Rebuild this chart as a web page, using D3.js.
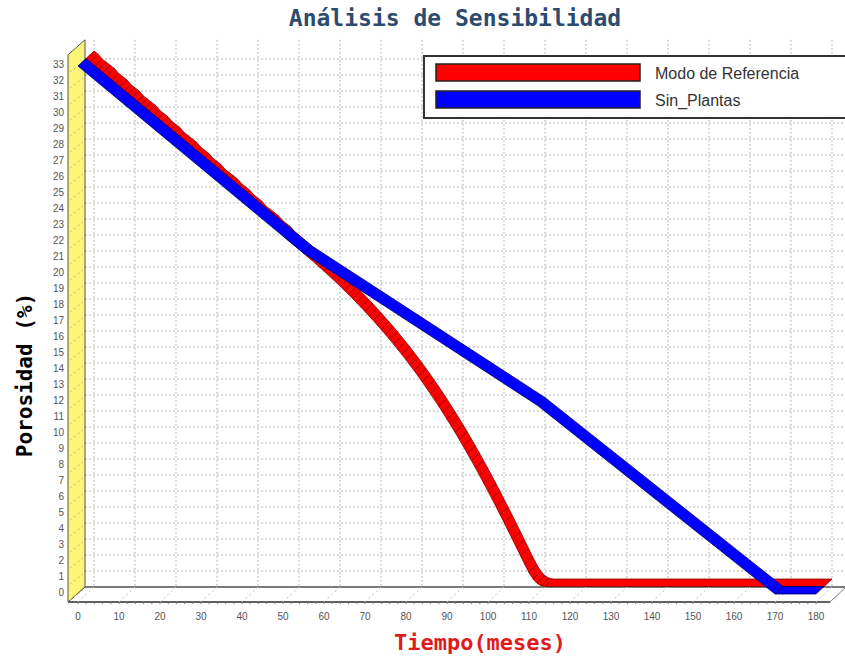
<!DOCTYPE html>
<html lang="es">
<head>
  <meta charset="UTF-8" />
  <title>Análisis de Sensibilidad</title>
  <style>
    body { margin: 0; background: #fff; }
    .tick-label { font-family: "Liberation Sans", Arial, sans-serif; font-size: 10px; fill: #555; }
    .grid line { stroke: #b5b5b5; stroke-dasharray: 2,2; stroke-width: 1; }
  </style>
</head>
<body>
  <svg width="845" height="660"></svg>
  <script src="https://d3js.org/d3.v7.min.js"></script>
  <script>
    // tiempo (meses) y porosidad (%)
    const refMonths = d3.range(0, 113).concat([180]);
    const refValues = [
      33.5, 33.3, 33.0, 32.8, 32.6, 32.4, 32.1, 31.9, 31.7, 31.4,
      31.2, 31.0, 30.7, 30.5, 30.3, 30.1, 29.8, 29.6, 29.4, 29.1,
      28.9, 28.7, 28.4, 28.2, 28.0, 27.8, 27.5, 27.3, 27.1, 26.8,
      26.6, 26.4, 26.1, 25.9, 25.7, 25.5, 25.2, 25.0, 24.8, 24.5,
      24.3, 24.1, 23.8, 23.6, 23.4, 23.2, 22.9, 22.7, 22.5, 22.2,
      22.00, 21.78, 21.56, 21.34, 21.12, 20.90, 20.68, 20.45, 20.22, 19.99,
      19.75, 19.51, 19.26, 19.01, 18.76, 18.50, 18.24, 17.97, 17.70, 17.42,
      17.14, 16.85, 16.56, 16.26, 15.96, 15.65, 15.33, 15.01, 14.68, 14.34,
      14.00, 13.65, 13.29, 12.92, 12.55, 12.17, 11.78, 11.38, 10.97, 10.56,
      10.14, 9.71, 9.27, 8.82, 8.37, 7.91, 7.44, 6.96, 6.48, 5.99,
      5.49, 4.99, 4.48, 3.97, 3.45, 2.93, 2.41, 1.89, 1.39, 0.98,
      0.70, 0.55, 0.50,
      0.50
    ];
    const sinMonths = [0, 55, 112, 170, 180];
    const sinValues = [33.5, 21.8, 12.3, 0.5, 0.5];

    const xTicks = d3.range(0, 181, 10);
    const yTicks = d3.range(0, 34);
    const legendNames = ["Modo de Referencia", "Sin_Plantas"];

    const svg = d3.select("svg");

    // front plane scales
    const x = d3.scaleLinear().domain([0, 180]).range([78, 816]);
    const y = d3.scaleLinear().domain([0, 33]).range([602, 74]);
    const depth = { dx: 16, dy: -15 };
    const wallTop = y(34.2);

    // back wall grid
    const grid = svg.append("g").attr("class", "grid");
    grid.selectAll(".gv").data(xTicks).enter().append("line")
      .attr("x1", d => x(d) + depth.dx).attr("x2", d => x(d) + depth.dx)
      .attr("y1", wallTop + depth.dy).attr("y2", y(0) + depth.dy);
    grid.selectAll(".gh").data(yTicks.slice(1)).enter().append("line")
      .attr("x1", 85).attr("x2", 845)
      .attr("y1", d => y(d) + depth.dy).attr("y2", d => y(d) + depth.dy);

    // floor
    svg.append("path")
      .attr("d", `M68,${y(0)} L830,${y(0)} L846,${y(0) + depth.dy} L85,${y(0) + depth.dy} Z`)
      .attr("fill", "#fff").attr("stroke", "#777").attr("stroke-width", 1);
    svg.append("line").attr("x1", 68).attr("x2", 830).attr("y1", y(0)).attr("y2", y(0))
      .attr("stroke", "#444").attr("stroke-width", 1.5);
    svg.append("line").attr("x1", 85).attr("x2", 846).attr("y1", y(0) + depth.dy).attr("y2", y(0) + depth.dy)
      .attr("stroke", "#666").attr("stroke-width", 1.5);
    svg.selectAll(".floor-tick").data(xTicks).enter().append("line")
      .attr("x1", d => x(d)).attr("y1", y(0))
      .attr("x2", d => x(d) + depth.dx).attr("y2", y(0) + depth.dy)
      .attr("stroke", "#bbb").attr("stroke-dasharray", "2,3");
    svg.selectAll(".minor").data(d3.range(0, 181, 2)).enter().append("line")
      .attr("x1", d => x(d)).attr("x2", d => x(d))
      .attr("y1", y(0)).attr("y2", y(0) + 2)
      .attr("stroke", "#777");

    // left wall
    svg.append("path")
      .attr("d", `M68,${y(0)} L68,${wallTop} L85,${wallTop + depth.dy} L85,${y(0) + depth.dy} Z`)
      .attr("fill", "#fdf57a").attr("stroke", "#555").attr("stroke-width", 1);
    svg.selectAll(".wall-tick").data(yTicks).enter().append("line")
      .attr("x1", 70).attr("y1", d => y(d) - 2)
      .attr("x2", 83).attr("y2", d => y(d) - 12)
      .attr("stroke", "#c8c060").attr("stroke-dasharray", "2,3");

    // axis labels
    svg.selectAll(".ylab").data(yTicks).enter().append("text")
      .attr("class", "tick-label")
      .attr("x", 64).attr("y", d => y(d) - 10 + 3.5)
      .attr("text-anchor", "end")
      .text(d => d);
    svg.selectAll(".xlab").data(xTicks).enter().append("text")
      .attr("class", "tick-label")
      .attr("x", d => x(d)).attr("y", 620)
      .attr("text-anchor", "middle")
      .text(d => d);

    // 3D ribbons
    function ribbon(months, values, z0, z1, fill, edge) {
      const g = svg.append("g");
      for (let i = 0; i < months.length - 1; i++) {
        const ax = x(months[i]), ay = y(values[i]);
        const bx = x(months[i + 1]), by = y(values[i + 1]);
        const pts = [
          [ax + depth.dx * z0, ay + depth.dy * z0],
          [bx + depth.dx * z0, by + depth.dy * z0],
          [bx + depth.dx * z1, by + depth.dy * z1],
          [ax + depth.dx * z1, ay + depth.dy * z1]
        ];
        g.append("path")
          .attr("d", "M" + pts.join("L") + "Z")
          .attr("fill", fill).attr("stroke", edge).attr("stroke-width", 0.8)
          .attr("stroke-linejoin", "round");
      }
    }
    ribbon(refMonths, refValues, 0.5, 1, "#ff0000", "#8a0000");
    ribbon(sinMonths, sinValues, 0, 0.5, "#0000ff", "#00006a");

    // legend
    const lg = svg.append("g");
    lg.append("rect").attr("x", 424).attr("y", 56).attr("width", 440).attr("height", 62)
      .attr("fill", "#fff").attr("stroke", "#333").attr("stroke-width", 2);
    const colors = ["#ff0000", "#0000ff"];
    legendNames.forEach((name, i) => {
      lg.append("rect").attr("x", 436).attr("y", 64 + i * 27).attr("width", 204).attr("height", 17)
        .attr("fill", colors[i]).attr("stroke", "#222").attr("stroke-width", 1.5);
      lg.append("text").attr("x", 655).attr("y", 79 + i * 27)
        .attr("font-family", "Liberation Sans, Arial, sans-serif").attr("font-size", 16)
        .attr("fill", "#333").text(name);
    });

    // titles
    svg.append("text").attr("x", 455).attr("y", 26).attr("text-anchor", "middle")
      .attr("font-family", "DejaVu Sans Mono, monospace").attr("font-weight", "bold")
      .attr("font-size", 23).attr("fill", "#2e4a6e").text("Análisis de Sensibilidad");
    svg.append("text").attr("x", 480).attr("y", 650).attr("text-anchor", "middle")
      .attr("font-family", "DejaVu Sans Mono, monospace").attr("font-weight", "bold")
      .attr("font-size", 22).attr("fill", "#e01b1b").text("Tiempo(meses)");
    svg.append("text").attr("transform", "translate(32,375) rotate(-90)").attr("text-anchor", "middle")
      .attr("font-family", "DejaVu Sans Mono, monospace").attr("font-weight", "bold")
      .attr("font-size", 21).attr("fill", "#000").text("Porosidad (%)");
  </script>
</body>
</html>
